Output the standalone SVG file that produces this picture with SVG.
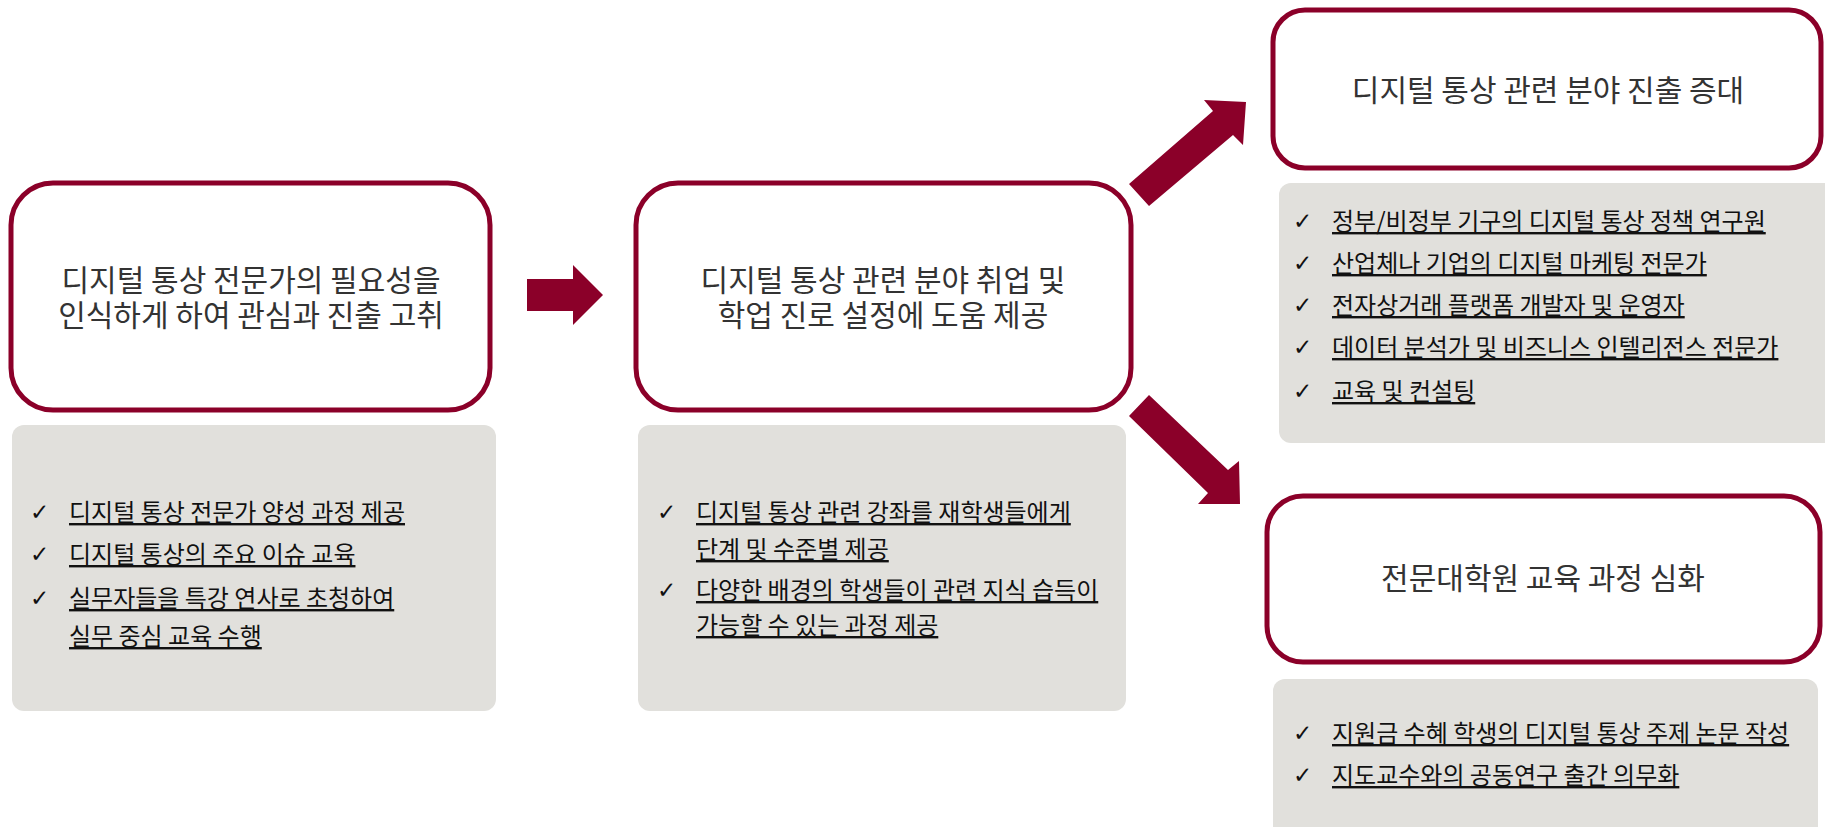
<svg xmlns="http://www.w3.org/2000/svg" width="1825" height="827" viewBox="0 0 1825 827">
<style>
.box{fill:#fff;stroke:#8B0029;stroke-width:5}
.panel{fill:#E1E0DC}
.arrow{fill:#8B0029}
.main{font-family:"Noto Sans CJK KR","Noto Sans",sans-serif;font-size:30px;fill:#333;text-anchor:middle}
.item{font-family:"Noto Sans CJK KR","Noto Sans",sans-serif;font-size:24px;fill:#111;text-decoration:underline}
.chk{font-family:"DejaVu Sans",sans-serif;font-size:23px;font-weight:bold;fill:#111}
</style>
<rect width="1825" height="827" fill="#fff"/>
<g id="connectors">
<polygon class="arrow" points="527,279 573,279 573,265 603,295 573,325 573,311 527,311"/>
<polygon class="arrow" points="1129,184 1213,111 1204,100 1246,102 1243,145 1233,135 1149,206"/>
<polygon class="arrow" points="1149,395 1228,470 1239,461 1240,504 1198,504 1208,493 1129,416"/>
</g>
<g id="node1">
<rect class="box" x="11" y="183" width="479" height="227" rx="42"/>
<text class="main"><tspan x="251" y="291">디지털 통상 전문가의 필요성을</tspan><tspan x="251" y="326">인식하게 하여 관심과 진출 고취</tspan></text>
</g>
<g id="panel1">
<rect class="panel" x="12" y="425" width="484" height="286" rx="12"/>
<text class="chk" x="30" y="520">✓</text><text class="item" x="69" y="521">디지털 통상 전문가 양성 과정 제공</text>
<text class="chk" x="30" y="562">✓</text><text class="item" x="69" y="563">디지털 통상의 주요 이슈 교육</text>
<text class="chk" x="30" y="606">✓</text><text class="item"><tspan x="69" y="607">실무자들을 특강 연사로 초청하여</tspan><tspan x="69" y="645">실무 중심 교육 수행</tspan></text>
</g>
<g id="node2">
<rect class="box" x="636" y="183" width="495" height="227" rx="42"/>
<text class="main"><tspan x="883" y="291">디지털 통상 관련 분야 취업 및</tspan><tspan x="883" y="326">학업 진로 설정에 도움 제공</tspan></text>
</g>
<g id="panel2">
<rect class="panel" x="638" y="425" width="488" height="286" rx="12"/>
<text class="chk" x="657" y="520">✓</text><text class="item"><tspan x="696" y="521">디지털 통상 관련 강좌를 재학생들에게</tspan><tspan x="696" y="558">단계 및 수준별 제공</tspan></text>
<text class="chk" x="657" y="598">✓</text><text class="item"><tspan x="696" y="599">다양한 배경의 학생들이 관련 지식 습득이</tspan><tspan x="696" y="634">가능할 수 있는 과정 제공</tspan></text>
</g>
<g id="node3">
<rect class="box" x="1273" y="10" width="548" height="158" rx="32"/>
<text class="main" x="1548" y="101">디지털 통상 관련 분야 진출 증대</text>
</g>
<g id="panel3">
<rect class="panel" x="1279" y="183" width="560" height="260" rx="12"/>
<text class="chk" x="1293" y="229">✓</text><text class="item" x="1332" y="230">정부/비정부 기구의 디지털 통상 정책 연구원</text>
<text class="chk" x="1293" y="271">✓</text><text class="item" x="1332" y="272">산업체나 기업의 디지털 마케팅 전문가</text>
<text class="chk" x="1293" y="313">✓</text><text class="item" x="1332" y="314">전자상거래 플랫폼 개발자 및 운영자</text>
<text class="chk" x="1293" y="355">✓</text><text class="item" x="1332" y="356">데이터 분석가 및 비즈니스 인텔리전스 전문가</text>
<text class="chk" x="1293" y="399">✓</text><text class="item" x="1332" y="400">교육 및 컨설팅</text>
</g>
<g id="node4">
<rect class="box" x="1267" y="496" width="553" height="166" rx="36"/>
<text class="main" x="1543" y="589">전문대학원 교육 과정 심화</text>
</g>
<g id="panel4">
<rect class="panel" x="1273" y="679" width="545" height="160" rx="12"/>
<text class="chk" x="1293" y="741">✓</text><text class="item" x="1332" y="742">지원금 수혜 학생의 디지털 통상 주제 논문 작성</text>
<text class="chk" x="1293" y="783">✓</text><text class="item" x="1332" y="784">지도교수와의 공동연구 출간 의무화</text>
</g>
</svg>
